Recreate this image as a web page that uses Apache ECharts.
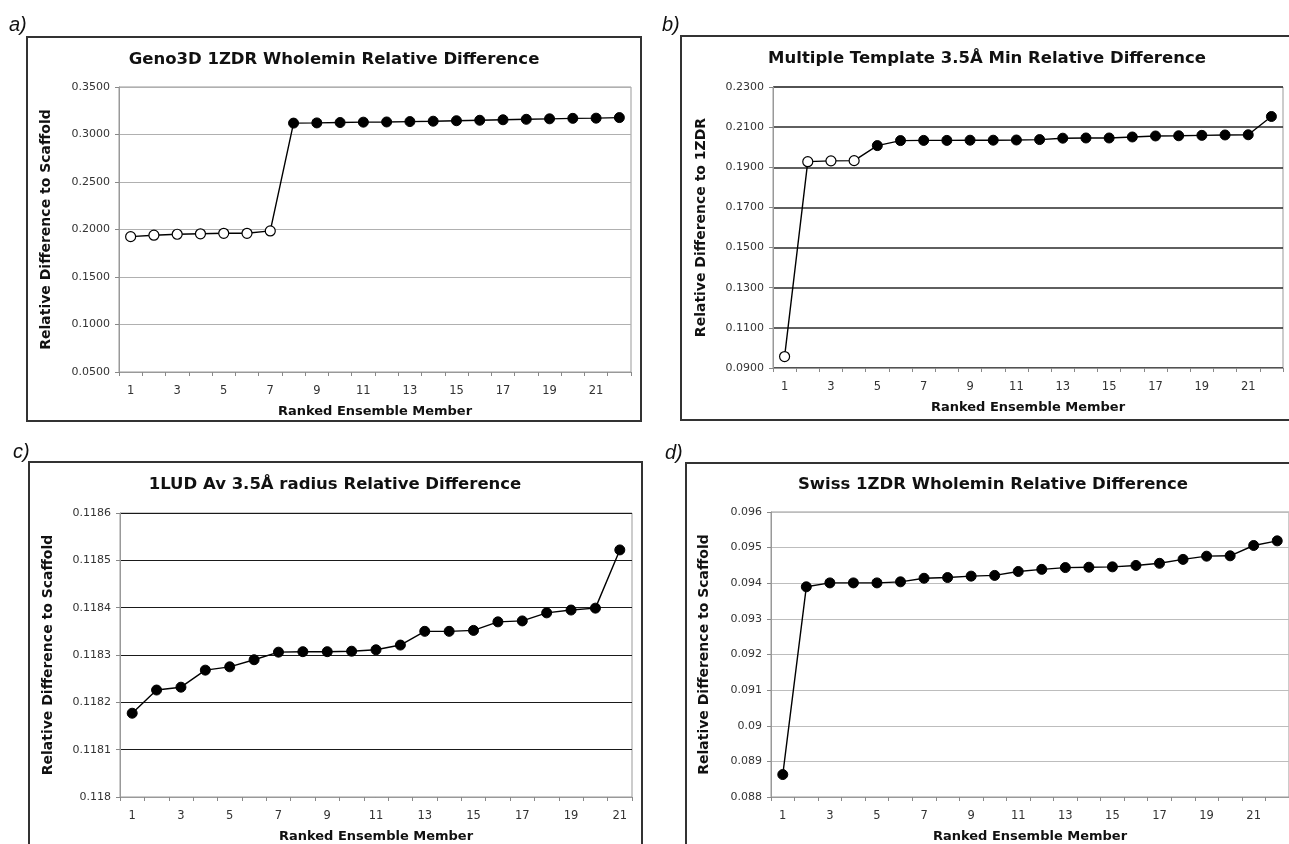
<!DOCTYPE html>
<html>
<head>
<meta charset="utf-8">
<script src="https://cdn.jsdelivr.net/npm/echarts@6/dist/echarts.min.js"></script>
<style>
  html, body { margin: 0; padding: 0; background: #fff; }
  #chart { width: 1289px; height: 844px; }
</style>
</head>
<body>
<div id="chart"></div>
<script>
// ---------- data ----------
const categories22 = ['1','2','3','4','5','6','7','8','9','10','11','12','13','14','15','16','17','18','19','20','21','22'];
const categories21 = ['1','2','3','4','5','6','7','8','9','10','11','12','13','14','15','16','17','18','19','20','21'];

const titleA = 'Geno3D 1ZDR Wholemin Relative Difference';
const titleB = 'Multiple Template 3.5Å Min Relative Difference';
const titleC = '1LUD Av 3.5Å radius Relative Difference';
const titleD = 'Swiss 1ZDR Wholemin Relative Difference';

const yNameA = 'Relative Difference to Scaffold';
const yNameB = 'Relative Difference to 1ZDR';
const yNameC = 'Relative Difference to Scaffold';
const yNameD = 'Relative Difference to Scaffold';
const xName = 'Ranked Ensemble Member';

const valuesA = [0.1925, 0.1940, 0.1950, 0.1955, 0.1960, 0.1960, 0.1985,
                 0.3120, 0.3122, 0.3126, 0.3130, 0.3132, 0.3136, 0.3140, 0.3145, 0.3150,
                 0.3155, 0.3160, 0.3165, 0.3170, 0.3172, 0.3178];
const hollowA = [1,1,1,1,1,1,1,0,0,0,0,0,0,0,0,0,0,0,0,0,0,0];

const valuesB = [0.0957, 0.1928, 0.1932, 0.1933, 0.2008, 0.2033, 0.2034, 0.2034, 0.2035, 0.2035,
                 0.2036, 0.2038, 0.2045, 0.2046, 0.2046, 0.2051, 0.2056, 0.2057, 0.2059, 0.2061,
                 0.2062, 0.2153];
const hollowB = [1,1,1,1,0,0,0,0,0,0,0,0,0,0,0,0,0,0,0,0,0,0];

const valuesC = [0.118177, 0.118226, 0.118232, 0.118268, 0.118275, 0.118290, 0.118306, 0.118307,
                 0.118307, 0.118308, 0.118311, 0.118321, 0.118350, 0.118350, 0.118352, 0.118370,
                 0.118372, 0.118389, 0.118395, 0.118399, 0.118522];

const valuesD = [0.08863, 0.09390, 0.09401, 0.09401, 0.09401, 0.09404, 0.09414, 0.09416, 0.09420,
                 0.09422, 0.09433, 0.09439, 0.09444, 0.09445, 0.09446, 0.09450, 0.09456, 0.09467,
                 0.09476, 0.09477, 0.09506, 0.09519];

const ticksA = [0.05, 0.10, 0.15, 0.20, 0.25, 0.30, 0.35];
const ticksB = [0.09, 0.11, 0.13, 0.15, 0.17, 0.19, 0.21, 0.23];
const ticksC = [0.1180, 0.1181, 0.1182, 0.1183, 0.1184, 0.1185, 0.1186];
const ticksD = [0.088, 0.089, 0.090, 0.091, 0.092, 0.093, 0.094, 0.095, 0.096];

const tickLabelsA = ['0.0500','0.1000','0.1500','0.2000','0.2500','0.3000','0.3500'];
const tickLabelsB = ['0.0900','0.1100','0.1300','0.1500','0.1700','0.1900','0.2100','0.2300'];
const tickLabelsC = ['0.118','0.1181','0.1182','0.1183','0.1184','0.1185','0.1186'];
const tickLabelsD = ['0.088','0.089','0.09','0.091','0.092','0.093','0.094','0.095','0.096'];

// ---------- layout / style ----------
const FONT = 'DejaVu Sans';
const panels = [
  { grid: {left: 119, top: 87, width: 512, height: 285}, cats: categories22, values: valuesA, hollow: hollowA,
    ticks: ticksA, labels: tickLabelsA, title: titleA, titleX: 334, titleY: 51, yName: yNameA, yGap: 66,
    split: {color: '#b0b0b0', width: 1} },
  { grid: {left: 773, top: 87, width: 510, height: 281}, cats: categories22, values: valuesB, hollow: hollowB,
    ticks: ticksB, labels: tickLabelsB, title: titleB, titleX: 987, titleY: 50, yName: yNameB, yGap: 65,
    split: {color: '#2a2a2a', width: 1.5} },
  { grid: {left: 120, top: 513, width: 512, height: 284}, cats: categories21, values: valuesC, hollow: null,
    ticks: ticksC, labels: tickLabelsC, title: titleC, titleX: 335, titleY: 476, yName: yNameC, yGap: 65,
    split: {color: '#1a1a1a', width: 1.2} },
  { grid: {left: 771, top: 512, width: 518, height: 285}, cats: categories22, values: valuesD, hollow: null,
    ticks: ticksD, labels: tickLabelsD, title: titleD, titleX: 993, titleY: 476, yName: yNameD, yGap: 60,
    split: {color: '#bdbdbd', width: 1} }
];

function labelFor(p) {
  return function (v) {
    let best = 0, bd = Infinity;
    p.ticks.forEach((t, i) => { const d = Math.abs(t - v); if (d < bd) { bd = d; best = i; } });
    return p.labels[best];
  };
}

const option = {
  animation: false,
  backgroundColor: '#fff',
  title: panels.map(p => ({
    text: p.title, left: p.titleX, top: p.titleY, textAlign: 'center', padding: 0,
    textStyle: {fontFamily: FONT, fontWeight: 'bold', fontSize: 16.5, color: '#111'}
  })),
  grid: panels.map(p => Object.assign({show: true, borderColor: '#999', borderWidth: 1, backgroundColor: '#fff', containLabel: false}, p.grid)),
  xAxis: panels.map((p, i) => ({
    type: 'category', gridIndex: i, data: p.cats, boundaryGap: true,
    axisLine: {show: true, lineStyle: {color: '#999', width: 1}},
    axisTick: {show: true, interval: 0, length: 4, alignWithLabel: false, lineStyle: {color: '#888'}},
    axisLabel: {interval: 1, color: '#333', fontSize: 11.5, fontFamily: FONT, margin: 13},
    splitLine: {show: false},
    name: xName, nameLocation: 'middle', nameGap: 33,
    nameTextStyle: {fontFamily: FONT, fontWeight: 'bold', fontSize: 13, color: '#111'}
  })),
  yAxis: panels.map((p, i) => ({
    type: 'value', gridIndex: i, min: p.ticks[0], max: p.ticks[p.ticks.length - 1],
    axisLine: {show: true, lineStyle: {color: '#999', width: 1}},
    axisTick: {show: true, length: 4, customValues: p.ticks, lineStyle: {color: '#888'}},
    axisLabel: {customValues: p.ticks, formatter: labelFor(p), color: '#333', fontSize: 11, fontFamily: FONT, margin: 9},
    splitLine: {show: true, lineStyle: {color: p.split.color, width: p.split.width}},
    name: p.yName, nameLocation: 'middle', nameGap: p.yGap,
    nameTextStyle: {fontFamily: FONT, fontWeight: 'bold', fontSize: 14, color: '#111'}
  })),
  series: panels.map((p, i) => ({
    type: 'line', xAxisIndex: i, yAxisIndex: i,
    symbol: 'circle', symbolSize: 10, showAllSymbol: true,
    lineStyle: {color: '#000', width: 1.4},
    itemStyle: {color: '#000', borderColor: '#000', borderWidth: 1},
    emphasis: {disabled: true},
    data: p.values.map((v, k) => (p.hollow && p.hollow[k])
      ? {value: v, itemStyle: {color: '#fff', borderColor: '#000', borderWidth: 1.2}}
      : v)
  })),
  graphic: [
    {type: 'rect', shape: {x: 27, y: 37, width: 614, height: 384}, style: {fill: null, stroke: '#333', lineWidth: 2}, z: -1},
    {type: 'rect', shape: {x: 681, y: 36, width: 640, height: 384}, style: {fill: null, stroke: '#333', lineWidth: 2}, z: -1},
    {type: 'rect', shape: {x: 29, y: 462, width: 613, height: 420}, style: {fill: null, stroke: '#333', lineWidth: 2}, z: -1},
    {type: 'rect', shape: {x: 686, y: 463, width: 640, height: 420}, style: {fill: null, stroke: '#333', lineWidth: 2}, z: -1},
    {type: 'text', x: 9, y: 25, style: {text: 'a)', font: 'italic 20px "Liberation Sans"', fill: '#111', textVerticalAlign: 'middle'}},
    {type: 'text', x: 662, y: 25, style: {text: 'b)', font: 'italic 20px "Liberation Sans"', fill: '#111', textVerticalAlign: 'middle'}},
    {type: 'text', x: 13, y: 452, style: {text: 'c)', font: 'italic 20px "Liberation Sans"', fill: '#111', textVerticalAlign: 'middle'}},
    {type: 'text', x: 665, y: 453, style: {text: 'd)', font: 'italic 20px "Liberation Sans"', fill: '#111', textVerticalAlign: 'middle'}}
  ]
};

const chart = echarts.init(document.getElementById('chart'), null, {renderer: 'canvas'});
chart.setOption(option);
</script>
</body>
</html>
